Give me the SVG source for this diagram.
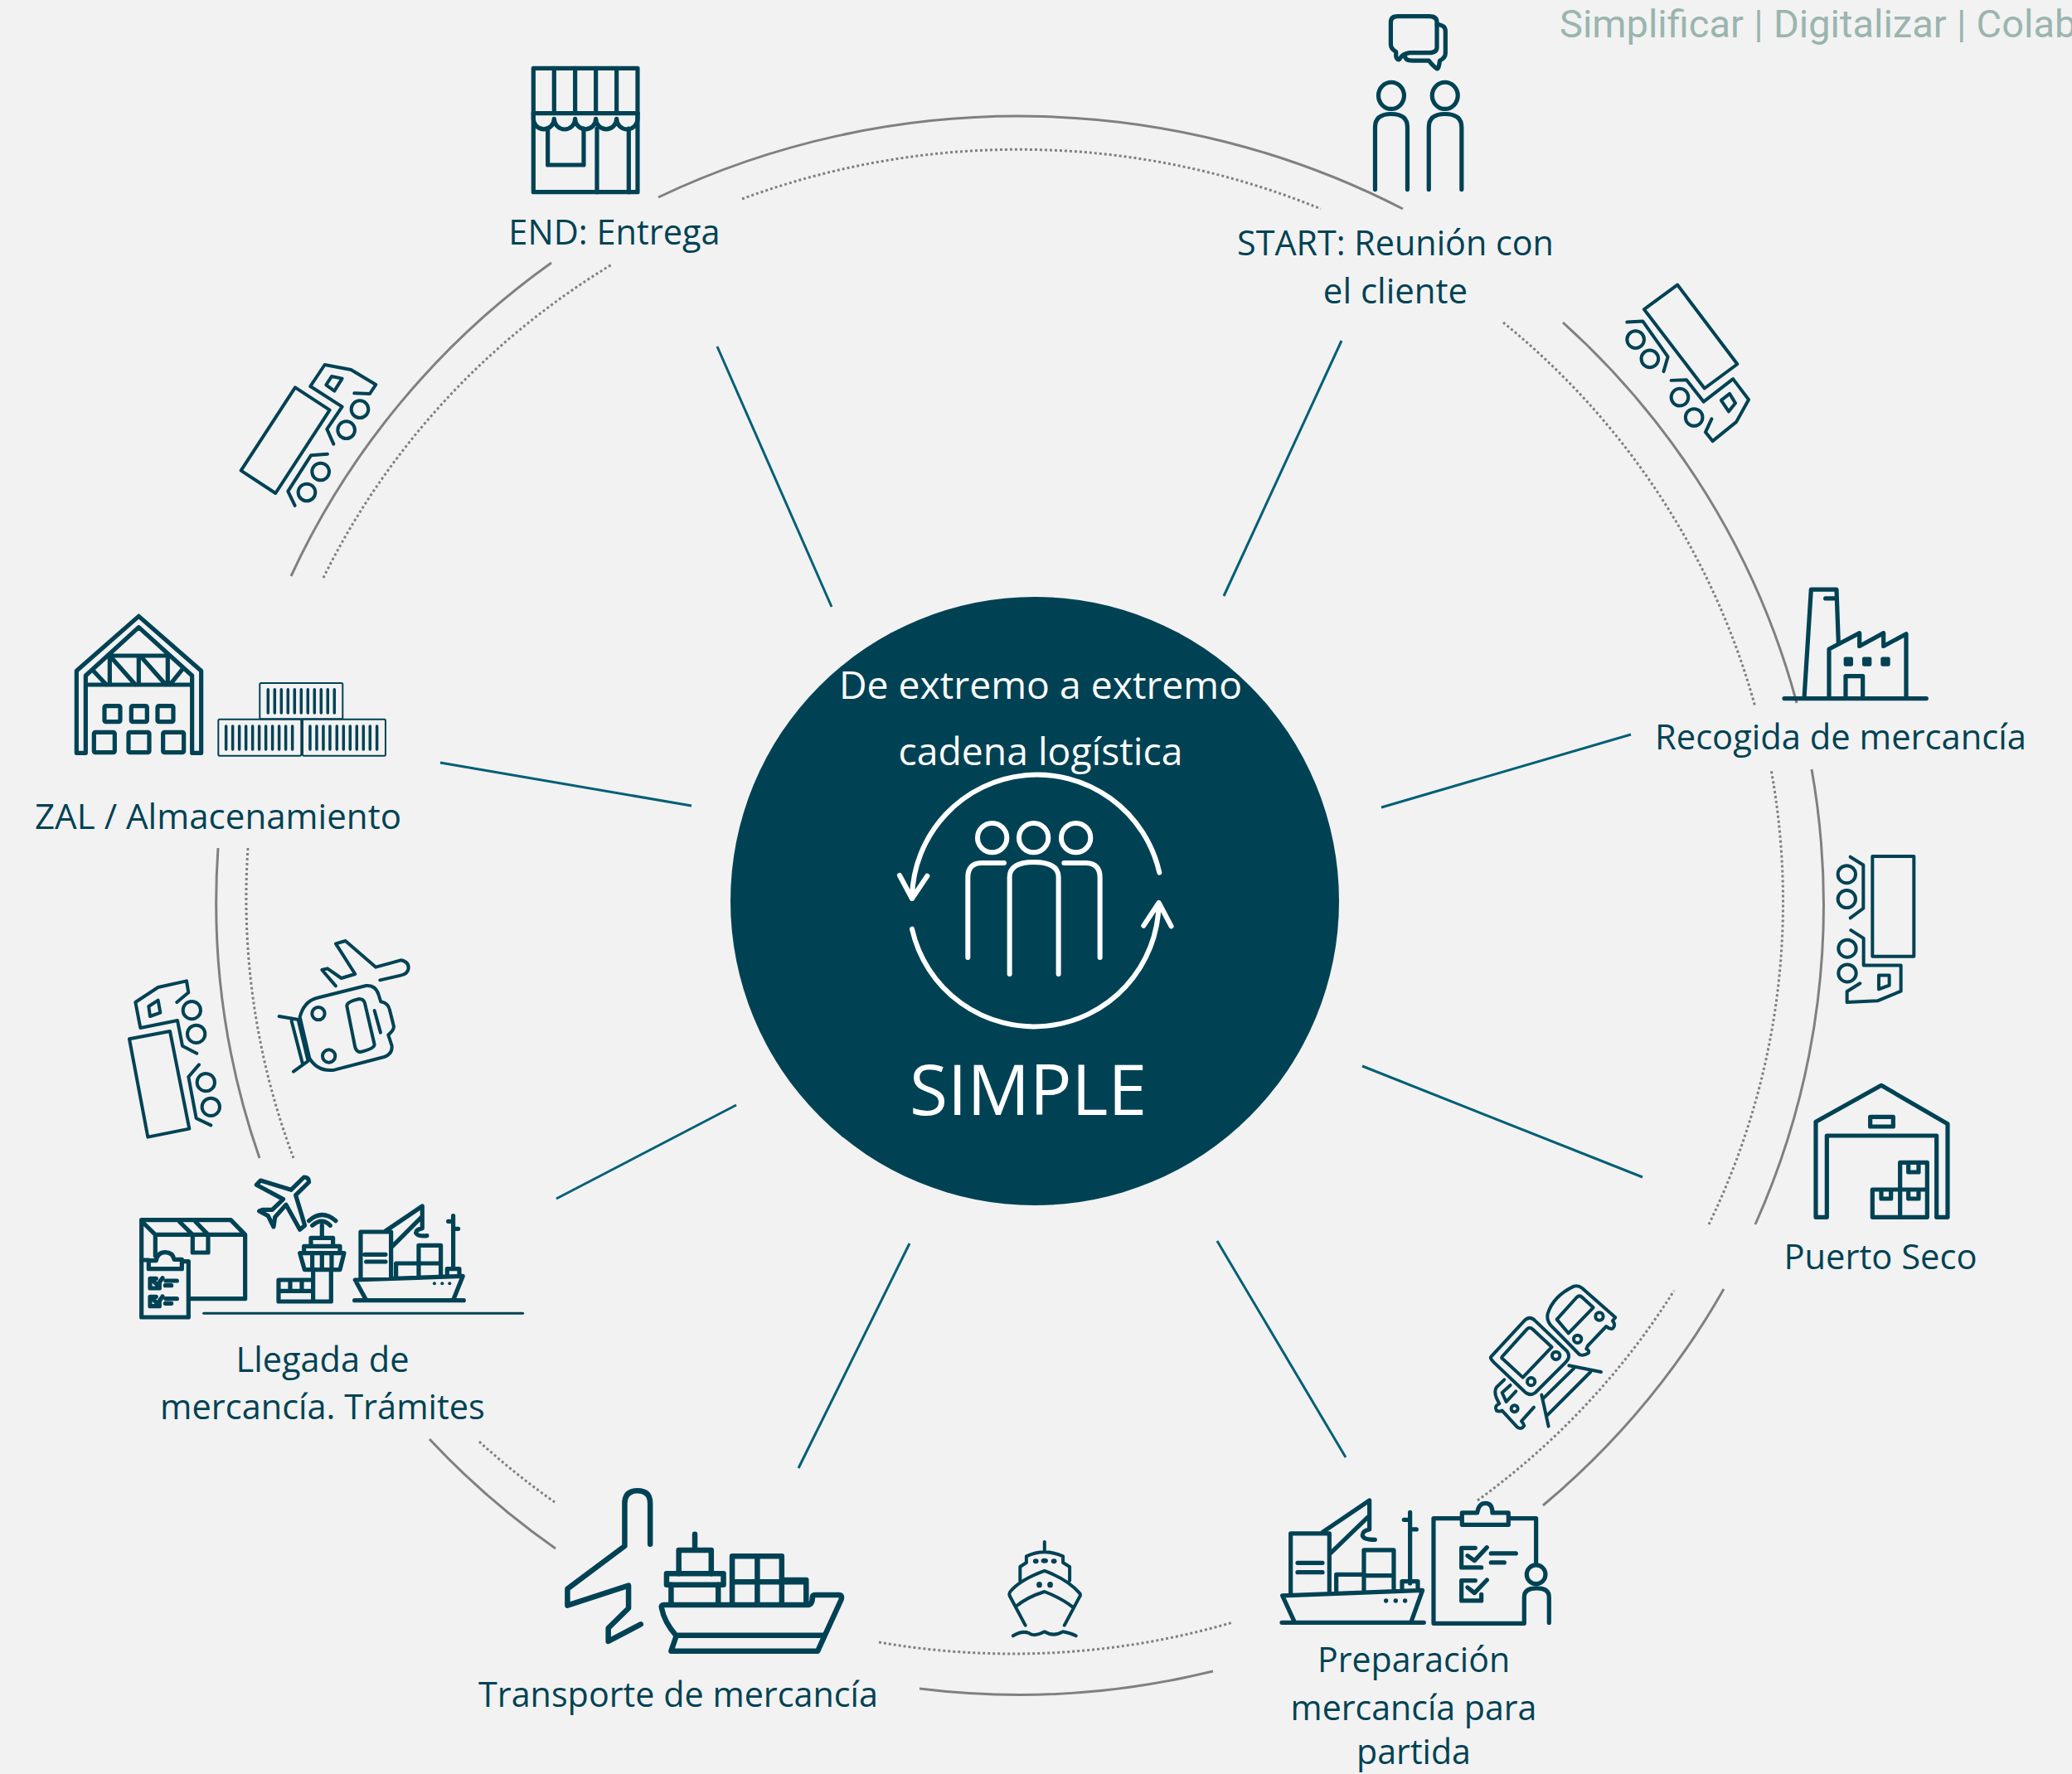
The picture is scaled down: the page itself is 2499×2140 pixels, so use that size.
<svg xmlns="http://www.w3.org/2000/svg" width="2499" height="2140" viewBox="0 0 2499 2140">
<style>
text{font-family:"Open Sans","Noto Sans",sans-serif;fill:#004254;font-size:41.5px;text-anchor:middle}
.w{fill:#fff}
.i{fill:none;stroke:#004254;stroke-width:5.2;stroke-linecap:round;stroke-linejoin:round}
.i *{vector-effect:non-scaling-stroke}
.t{stroke-width:4}
.c{fill:none;stroke:#fff;stroke-width:6;stroke-linecap:round;stroke-linejoin:round}
.c *{vector-effect:non-scaling-stroke}
.f{fill:#004254;stroke:none}
.s{fill:none;stroke:#808080;stroke-width:3}
.d{fill:none;stroke:#808080;stroke-width:3;stroke-dasharray:3 3}
.l{stroke:#005f76;stroke-width:3;fill:none}
</style>
<rect width="2499" height="2140" fill="#f2f2f2"/>
<text x="1881" y="45" style="font-family:Roboto,sans-serif;font-size:47px;fill:#9ab5ae;text-anchor:start;word-spacing:.6px">Simplificar | Digitalizar | Colab</text>
<g id="connectors">
<path class="s" d="M794 238A985 953 0 0 1 1692 252"/>
<path class="s" d="M351 695A967 953 0 0 1 665 317"/>
<path class="s" d="M263 1023A967 953 0 0 0 313 1397"/>
<path class="s" d="M518 1736A967 953 0 0 0 670 1868"/>
<path class="s" d="M1109 2037A967 953 0 0 0 1463 2016"/>
<path class="s" d="M1861 1816A967 953 0 0 0 2079 1555"/>
<path class="s" d="M2117 1477A967 953 0 0 0 2185 928"/>
<path class="s" d="M1885 389A967 953 0 0 1 2167 848"/>
<path class="d" d="M895 240A935 907 0 0 1 1593 252"/>
<path class="d" d="M390 697A926 907 0 0 1 738 319"/>
<path class="d" d="M299 1023A926 907 0 0 0 354 1397"/>
<path class="d" d="M578 1739A926 907 0 0 0 669 1812"/>
<path class="d" d="M1060 1981A926 907 0 0 0 1487 1957"/>
<path class="d" d="M1782 1810A926 907 0 0 0 2019 1557"/>
<path class="d" d="M2061 1477A926 907 0 0 0 2136 928"/>
<path class="d" d="M1813 389A926 907 0 0 1 2117 853"/>
<path class="l" d="M865 418L1003 732M1618 411L1476 719M1967 886L1666 974M1643 1286L1981 1420M1468 1497L1623 1758M1097 1500L963 1771M888 1333L671 1446M531 920L834 972"/>
</g>
<g id="center">
<circle cx="1248" cy="1087" r="367" fill="#004254"/>
<text class="w" x="1255" y="843" style="font-size:46.3px">De extremo a extremo</text>
<text class="w" x="1255" y="923" style="font-size:46.3px">cadena logística</text>
<text class="w" x="1240" y="1345" style="font-size:84px">SIMPLE</text>
<g class="c" transform="translate(1050 900) scale(.3333)">
<path d="M150 545A453 453 0 0 1 1045 458M105 468L150 552L205 470M150 662A452 452 0 0 0 1043 572M988 650L1043 567L1088 652"/>
<circle cx="440" cy="332" r="53"/><circle cx="590" cy="332" r="53"/><circle cx="743" cy="332" r="53"/>
<path d="M352 765V475Q352 425 400 423H483M503 825V475Q503 420 590 420Q680 420 680 475V825M700 423H780Q830 425 830 475V765"/>
</g>
</g>
<g id="node-start">
<g class="i" transform="translate(1600 0) scale(.5733 .3571)">
<path d="M150 55H215Q232 55 232 75V160Q232 178 215 178H175Q160 180 153 200Q148 205 146 190V175Q135 165 135 150V75Q135 55 150 55Z"/>
<path d="M232 82Q250 85 250 105V180Q250 195 238 205Q236 235 232 232Q225 225 215 205H180Q165 205 165 190"/>
<ellipse cx="136" cy="323" rx="27" ry="45"/><ellipse cx="249" cy="323" rx="27" ry="45"/>
<path d="M102 640V430Q102 385 136 385Q170 385 170 430V640M215 640V430Q215 385 249 385Q284 385 284 430V640"/>
</g>
<text x="1683" y="308" style="font-size:41.3px">START: Reunión con</text><text x="1683" y="366" style="font-size:42px">el cliente</text>
</g>
<g id="truck-1">
<g class="i t" transform="translate(1600 0) scale(.5733 .3571)">
<path d="M738 962L864 1230L795 1312L668 1045Z"/>
<path d="M632 1088L665 1085L718 1205L709 1255"/>
<ellipse cx="650" cy="1147" rx="18" ry="29"/><ellipse cx="680" cy="1212" rx="18" ry="29"/>
<path d="M725 1285L757 1283L793 1357L855 1280L888 1350L862 1425L812 1490L797 1460L810 1415"/>
<path d="M848 1330L860 1362L846 1390L830 1352Z"/>
<ellipse cx="743" cy="1342" rx="18" ry="29"/><ellipse cx="773" cy="1410" rx="18" ry="29"/>
</g>
</g>
<g id="node-recogida">
<g class="i" transform="translate(2130 690) scale(.3333 .3507)">
<path d="M138 435L163 60H255L262 245M215 91H255M228 435V265L338 210V255L425 210V255L507 213V435M66 435H580M288 435V358H350V435"/>
<rect class="f" x="281" y="292" width="34" height="32" rx="6"/><rect class="f" x="348" y="292" width="34" height="32" rx="6"/><rect class="f" x="415" y="292" width="34" height="32" rx="6"/>
</g>
<text x="2220" y="904" style="font-size:41.7px">Recogida de mercancía</text>
</g>
<g id="truck-2">
<g class="i t" transform="translate(2130 690) scale(.3333 .3507)">
<rect x="385" y="978" width="150" height="344"/>
<path d="M305 980L352 1008V1157L305 1190"/>
<ellipse cx="292" cy="1040" rx="32" ry="30"/><ellipse cx="292" cy="1125" rx="32" ry="30"/>
<path d="M307 1232L353 1260V1353H488V1442L403 1475L293 1480V1443L340 1415"/>
<path d="M408 1387H446V1422L408 1435Z"/>
<ellipse cx="294" cy="1295" rx="32" ry="30"/><ellipse cx="294" cy="1380" rx="32" ry="30"/>
</g>
</g>
<g id="node-puerto-seco">
<g class="i" transform="translate(2170 1290) scale(.3333)">
<path d="M60 535V190L297 58L537 197V535H497V240H100V535Z"/>
<rect x="257" y="172" width="83" height="35"/>
<path d="M265 435H463V535H265ZM365 435V535M365 435V337H463V435M297 435V468H332V435M395 435V468H432V435M395 337V372H432V337"/>
</g>
<text x="2268" y="1531" style="font-size:41.7px">Puerto Seco</text>
</g>
<g id="trains">
<g class="i t" transform="translate(1530 1530) scale(.3333)">
<path d="M805 320L925 190Q945 170 965 190L1080 300Q1095 320 1075 340L965 450Q945 465 925 445L815 340Q800 325 805 320Z"/>
<path d="M845 320L935 220Q945 210 955 220L1025 285L920 395L850 330Q840 325 845 320Z"/>
<circle cx="1040" cy="316" r="14"/><circle cx="950" cy="410" r="14"/>
<path d="M1125 312L1020 205Q1005 185 1010 165Q1030 100 1105 65Q1120 60 1135 72L1255 178L1245 190Q1258 205 1245 218Q1235 222 1222 210L1155 280L1150 292Q1165 300 1155 308Q1140 318 1125 312"/>
<path d="M1043 185L1115 105Q1125 95 1135 105L1175 142L1085 235Z"/>
<circle cx="1197" cy="174" r="14"/><circle cx="1118" cy="256" r="14"/>
<path d="M853 403L825 430Q815 445 825 470L835 490Q815 500 825 515Q835 520 845 515L900 575Q915 585 925 570Q922 560 915 553L960 503"/>
<path d="M875 423L845 450L860 483L895 445"/>
<circle cx="890" cy="508" r="12"/>
<path d="M1087 352L1203 375M1105 362L995 470M1165 375L1005 535M988 458L1013 572"/>
</g>
</g>
<g id="node-preparacion">
<g class="i" transform="translate(1530 1530) scale(.3333)">
<path d="M50 1185L557 1165L515 1282M50 1185L95 1282M48 1282H562M80 1178V960H220V1178M105 1066H195M105 1100H195M195 955L365 840V945Q340 950 340 965Q340 982 385 982M225 1030L360 900M245 1170V1108H345M345 1165V1020H453V1165M345 1112H453M512 883V1140M490 910H512M512 945H535M483 1160V1133H540V1165"/>
<circle class="f" cx="425" cy="1203" r="8"/><circle class="f" cx="460" cy="1203" r="8"/><circle class="f" cx="494" cy="1203" r="8"/>
<path d="M695 905H597V1285H925V1190Q925 1158 970 1158Q1015 1158 1015 1190V1283M968 1070V905H870M700 885H755Q760 850 785 850Q810 850 810 885H868V928H700Z"/>
<circle cx="968" cy="1108" r="34"/>
<path d="M748 1012H698V1083H770M720 1040L745 1058L790 1010M805 1032H895M805 1065H853M748 1130H698V1203H770V1180M720 1155L745 1175L790 1128"/>
</g>
<text x="1705" y="2017" style="font-size:41.1px">Preparación</text><text x="1705" y="2075" style="font-size:41.1px">mercancía para</text><text x="1705" y="2128" style="font-size:41.1px">partida</text>
</g>
<g id="small-ship">
<g class="i t" transform="translate(660 1780) scale(.4209 .3333)">
<path d="M1425 240V270M1373 315V292Q1425 262 1478 292V315L1497 330V380M1373 315L1355 330V383M1370 542L1325 435Q1322 425 1330 415Q1360 375 1425 345Q1490 375 1525 425Q1530 432 1525 440L1482 542M1345 472Q1375 440 1425 420Q1475 445 1505 475M1335 580Q1360 560 1380 570Q1395 585 1425 565Q1450 585 1478 565Q1500 570 1515 580"/>
<ellipse class="f" cx="1400" cy="310" rx="8" ry="9"/><ellipse class="f" cx="1425" cy="308" rx="10" ry="9"/><ellipse class="f" cx="1452" cy="310" rx="8" ry="9"/><ellipse class="f" cx="1410" cy="395" rx="8" ry="11"/><ellipse class="f" cx="1441" cy="395" rx="8" ry="11"/>
</g>
</g>
<g id="node-transporte">
<g class="i" style="stroke-width:6.5" transform="translate(660 1780) scale(.4209 .3333)">
<path d="M295 248V100Q295 55 258 55Q222 55 222 100V255L58 410V470L233 398V480L175 552V600L268 538"/>
<path d="M335 468H745Q760 468 760 440Q760 432 770 432H835Q847 432 842 450L775 635H355L370 580Q335 530 328 480Q325 468 335 468ZM368 578H790"/>
<rect x="342" y="355" width="163" height="40"/>
<path d="M377 355V270H470V355M423 212V270M355 395V465M490 395V465M530 465V292H672V378H742V465M602 292V465M530 385H742M672 378V465"/>
</g>
<text x="818" y="2059" style="font-size:41.3px">Transporte de mercancía</text>
</g>
<g id="node-llegada">
<g class="i" transform="translate(150 1400) scale(.3333)">
<path d="M62 365V215H385L437 268V500H235M65 222L112 268H437M112 268V345M200 222L247 268V333H303V268L258 222"/>
<path d="M88 360H62V567H232V365H210M88 392V362H115Q120 332 148 332Q175 332 180 358H208V392Z"/>
<path d="M115 427H93V462H127V445M105 437L120 450L138 425M150 435H190M148 452H170M115 493H93V527H127V510M105 503L120 518L138 492M150 500H190M148 517H170"/>
<path style="stroke-width:3" d="M287 553H1442"/>
<path d="M478 88L493 72L603 106L650 60Q668 60 668 78L620 125L653 235L635 250L585 160L545 205L540 240L520 200L488 183L500 178H535L575 140Z"/>
<path d="M668 218Q715 175 765 218M680 235Q715 205 745 235M715 235V280M675 305V280H755V310M650 330V310H780V332M635 335H795L780 395H652ZM680 335V395M715 335V395M750 335V395M683 395V510H748V395M683 432H558V510H683M558 472H683M600 432V472M642 432V472"/>
<path d="M835 432L1225 418L1190 505M835 432L875 505M833 506H1228M855 430V258H965V425M870 340H945M875 366H945M945 255L1078 165V245Q1055 250 1055 262Q1060 275 1095 272M970 310L1075 205M983 425V372H1065M1065 420V307H1145V418M1065 372H1145M1190 200V390M1172 220H1190M1190 247H1208M1168 415V392H1212V415"/>
<circle class="f" cx="1122" cy="445" r="6"/><circle class="f" cx="1150" cy="445" r="6"/><circle class="f" cx="1177" cy="445" r="6"/>
</g>
<text x="389" y="1655">Llegada de</text><text x="389" y="1712">mercancía. Trámites</text>
</g>
<g id="plane-train">
<g class="i t" transform="translate(140 1120) scale(.3333)">
<path d="M795 208L745 150L765 145L815 180L865 165L795 55L830 45L940 140L1030 115Q1060 120 1058 145Q1055 165 1030 170L955 187"/>
<path d="M665 320Q680 265 725 252L905 207Q940 205 950 240L958 265Q985 270 990 295L1005 355Q1005 370 985 385L998 425Q1000 455 970 465L790 512Q730 520 700 470Z"/>
<path d="M835 280Q835 265 880 255Q895 255 900 270L935 420Q935 435 885 447Q870 447 865 430ZM935 297L957 377"/>
<circle cx="732" cy="308" r="23"/><circle cx="770" cy="462" r="23"/>
<path d="M590 318L660 330M635 335L675 490M660 335L695 480M642 518L695 480"/>
</g>
</g>
<g id="truck-3">
<g class="i t" transform="translate(140 1120) scale(.3333)">
<path d="M220 267L262 232L255 190L152 213L70 267L88 360L222 333L240 425L292 452"/>
<path d="M118 282L152 260L160 305L123 318Z"/>
<circle cx="274" cy="296" r="32"/><circle cx="290" cy="382" r="32"/>
</g>
<g class="i t" transform="translate(140 1230) scale(.3333)">
<path d="M48 70L195 42L265 395L115 425Z"/>
<path d="M300 163L262 207L290 357L343 382"/>
<circle cx="325" cy="227" r="32"/><circle cx="343" cy="316" r="32"/>
</g>
</g>
<g id="node-zal">
<g class="i" transform="translate(60 720) scale(.3333)">
<path d="M97 268L322 70L548 268V565H515V285L322 110L130 285V565H97ZM130 318H515M215 213H430M217 213V318M322 213V318M427 213V318M155 265L205 318M225 222L310 318M335 222L420 318M480 262L435 318"/>
<rect x="198" y="395" width="57" height="57" rx="5"/><rect x="295" y="395" width="57" height="57" rx="5"/><rect x="390" y="395" width="57" height="57" rx="5"/>
<rect x="160" y="490" width="75" height="73" rx="5"/><rect x="285" y="490" width="75" height="73" rx="5"/><rect x="410" y="490" width="75" height="73" rx="5"/>
<g style="stroke-width:2"><rect x="760" y="312" width="300" height="130" rx="5"/><rect x="610" y="443" width="300" height="132" rx="5"/><rect x="915" y="443" width="300" height="132" rx="5"/></g>
<g style="stroke-width:3.5">
<path d="M790 335V420M814 335V420M838 335V420M862 335V420M886 335V420M910 335V420M934 335V420M958 335V420M982 335V420M1006 335V420M1030 335V420"/>
<path d="M638 468V552M662 468V552M686 468V552M710 468V552M734 468V552M758 468V552M782 468V552M806 468V552M830 468V552M854 468V552M878 468V552"/>
<path d="M942 468V552M966 468V552M990 468V552M1014 468V552M1039 468V552M1063 468V552M1087 468V552M1111 468V552M1135 468V552M1159 468V552M1184 468V552"/>
</g>
</g>
<text x="263" y="1000" style="font-size:42.1px">ZAL / Almacenamiento</text>
</g>
<g id="truck-4">
<g class="i t" transform="translate(260 420) scale(.3333)">
<path d="M288 142L413 224L217 525L92 443Z"/>
<path d="M502 163L558 165L580 132L490 78L395 60L343 138L458 212L403 293L427 347"/>
<path d="M420 102L458 110L430 155L400 133Z"/>
<circle cx="522" cy="221" r="31"/><circle cx="473" cy="296" r="31"/>
<path d="M405 383L345 388L262 518L287 570"/>
<circle cx="380" cy="447" r="31"/><circle cx="330" cy="522" r="31"/>
</g>
</g>
<g id="node-end">
<g class="i" transform="translate(600 50) scale(.3333)">
<rect x="130" y="97" width="377" height="448"/>
<path d="M130 260H507M205 97V260M281 97V260M356 97V260M431 97V260"/>
<path d="M130 260V280A37 37 0 0 0 205 280A38 38 0 0 0 281 280A37 37 0 0 0 356 280A37 37 0 0 0 431 280A38 38 0 0 0 507 280V260"/>
<path d="M182 315V447H312V315M360 315V545M475 315V545"/>
</g>
<text x="741" y="295">END: Entrega</text>
</g>
</svg>
